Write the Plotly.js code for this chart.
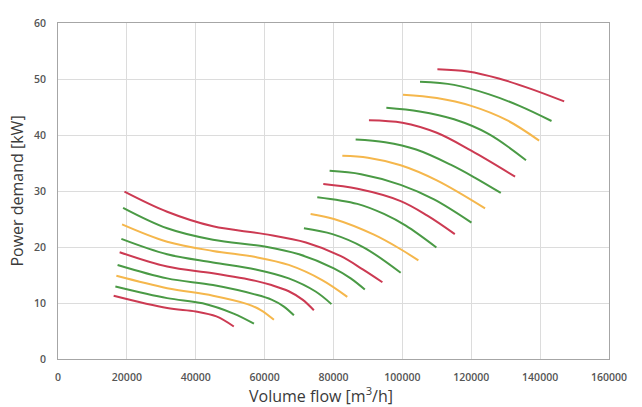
<!DOCTYPE html>
<html>
<head>
<meta charset="utf-8">
<script src="https://cdn.plot.ly/plotly-3.0.1.min.js"></script>
<style>html,body{margin:0;padding:0;background:#fff;}#chart{width:642px;height:407px;}</style>
</head>
<body>
<div id="chart"></div>
<script>
// ---- Data (volume flow m3/h, power demand kW) ----
// Left family of curves (bottom to top)
const flowA1 = [16160, 31700, 40000, 46000, 51050];
const powerA1 = [11.3, 9.1, 8.5, 7.6, 5.8];
const flowA2 = [16660, 31700, 42000, 51000, 56900];
const powerA2 = [12.95, 10.87, 9.95, 8.1, 6.3];
const flowA3 = [16950, 31700, 45000, 55000, 59000, 62700];
const powerA3 = [14.85, 12.65, 11.3, 9.8, 8.7, 7.0];
const flowA4 = [17300, 31700, 45000, 57400, 62000, 65500, 68500];
const powerA4 = [16.8, 14.4, 13.2, 11.5, 10.6, 9.4, 7.8];
const flowA5 = [17900, 31700, 45000, 57400, 62000, 67000, 71000, 74300];
const powerA5 = [19.07, 16.5, 15.3, 13.95, 13.2, 12.1, 10.6, 8.7];
const flowA6 = [18400, 31700, 45000, 57400, 67000, 74800, 79400];
const powerA6 = [21.45, 18.7, 17.25, 16.0, 14.4, 12.05, 9.8];
const flowA7 = [18600, 31700, 45000, 57400, 67000, 76700, 84000];
const powerA7 = [24.05, 20.95, 19.3, 18.2, 16.8, 14.1, 11.1];
const flowA8 = [18900, 31700, 45000, 60000, 70000, 80100, 85000, 89100];
const powerA8 = [27.0, 23.35, 21.3, 20.1, 18.7, 16.2, 14.4, 12.4];
const flowA9 = [19300, 31700, 45000, 60000, 72000, 82000, 88500, 94200];
const powerA9 = [29.9, 26.3, 23.7, 22.3, 20.8, 18.4, 16.0, 13.7];
// Right family of curves (bottom to top)
const flowB1 = [71410, 79700, 88850, 99510];
const powerB1 = [23.35, 22.3, 19.9, 15.4];
const flowB2 = [73350, 80120, 91750, 99510, 104650];
const powerB2 = [25.9, 25.0, 22.2, 19.6, 17.6];
const flowB3 = [75290, 86920, 94650, 101000, 109880];
const powerB3 = [28.9, 27.7, 25.9, 23.8, 19.9];
const flowB4 = [77030, 87000, 99510, 107270, 115230];
const powerB4 = [31.25, 30.4, 28.2, 25.6, 22.3];
const flowB5 = [78870, 88000, 99510, 109190, 120060];
const powerB5 = [33.6, 33.0, 31.1, 28.5, 24.35];
const flowB6 = [82560, 90000, 99510, 110000, 124010];
const powerB6 = [36.3, 35.95, 34.6, 31.9, 26.9];
const flowB7 = [86430, 95000, 104000, 114000, 121000, 128580];
const powerB7 = [39.2, 38.7, 37.4, 34.7, 32.4, 29.65];
const flowB8 = [90290, 100000, 110000, 120000, 132730];
const powerB8 = [42.65, 42.2, 40.4, 37.2, 32.55];
const flowB9 = [95350, 105000, 115000, 125000, 135900];
const powerB9 = [44.85, 44.2, 42.8, 40.2, 35.5];
const flowB10 = [100180, 110000, 120000, 130500, 139710];
const powerB10 = [47.2, 46.6, 45.2, 42.6, 39.0];
const flowB11 = [105120, 115000, 125000, 134000, 143310];
const powerB11 = [49.5, 48.95, 47.3, 45.2, 42.5];
const flowB12 = [110170, 119000, 128000, 137500, 146980];
const powerB12 = [51.75, 51.35, 50.1, 48.2, 46.0];

const xTicks = [0, 20000, 40000, 60000, 80000, 100000, 120000, 140000, 160000];
const yTicks = [0, 10, 20, 30, 40, 50, 60];

// ---- Styling ----
const RED = '#cc3a52', GREEN = '#4a9a45', ORANGE = '#f5b74c';
const curves = [
  [flowA1, powerA1, RED], [flowA2, powerA2, GREEN], [flowA3, powerA3, ORANGE],
  [flowA4, powerA4, GREEN], [flowA5, powerA5, RED], [flowA6, powerA6, GREEN],
  [flowA7, powerA7, ORANGE], [flowA8, powerA8, GREEN], [flowA9, powerA9, RED],
  [flowB1, powerB1, GREEN], [flowB2, powerB2, ORANGE], [flowB3, powerB3, GREEN],
  [flowB4, powerB4, RED], [flowB5, powerB5, GREEN], [flowB6, powerB6, ORANGE],
  [flowB7, powerB7, GREEN], [flowB8, powerB8, RED], [flowB9, powerB9, GREEN],
  [flowB10, powerB10, ORANGE], [flowB11, powerB11, GREEN], [flowB12, powerB12, RED]
];

const traces = curves.map(function (c) {
  return {
    x: c[0], y: c[1], type: 'scatter', mode: 'lines',
    line: {color: c[2], width: 2, shape: 'spline', smoothing: 1},
    hoverinfo: 'skip', showlegend: false
  };
});

const tickFont = {family: 'Open Sans, sans-serif', size: 10.5, color: '#555555', weight: 600};
const titleFont = {family: 'Open Sans, sans-serif', size: 16, color: '#3a3a3a'};
const layout = {
  width: 642, height: 407,
  margin: {l: 58, r: 33, t: 23, b: 48, pad: 0},
  paper_bgcolor: '#ffffff', plot_bgcolor: '#ffffff',
  xaxis: {
    range: [0, 160000], tickvals: xTicks, ticktext: xTicks.map(String),
    showgrid: true, gridcolor: '#dcdcdc', gridwidth: 1, zeroline: false,
    showline: true, linecolor: '#a6a6a6', linewidth: 1, mirror: true,
    ticks: 'outside', ticklen: 8, tickcolor: 'rgba(0,0,0,0)',
    tickfont: tickFont, fixedrange: true
  },
  yaxis: {
    range: [0, 60], tickvals: yTicks, ticktext: yTicks.map(String),
    showgrid: true, gridcolor: '#dcdcdc', gridwidth: 1, zeroline: false,
    showline: true, linecolor: '#a6a6a6', linewidth: 1, mirror: true,
    ticks: 'outside', ticklen: 9, tickcolor: 'rgba(0,0,0,0)',
    tickfont: tickFont, fixedrange: true,
    title: {text: 'Power demand [kW]', font: titleFont, standoff: 6}
  },
  annotations: [{
    text: 'Volume flow [m<sup>3</sup>/h]', xref: 'paper', yref: 'paper',
    x: (321 - 58) / 551, y: 0, yshift: -36, xanchor: 'center', yanchor: 'middle',
    showarrow: false, font: titleFont
  }]
};

Plotly.newPlot('chart', traces, layout, {displayModeBar: false, staticPlot: true});
</script>
</body>
</html>
